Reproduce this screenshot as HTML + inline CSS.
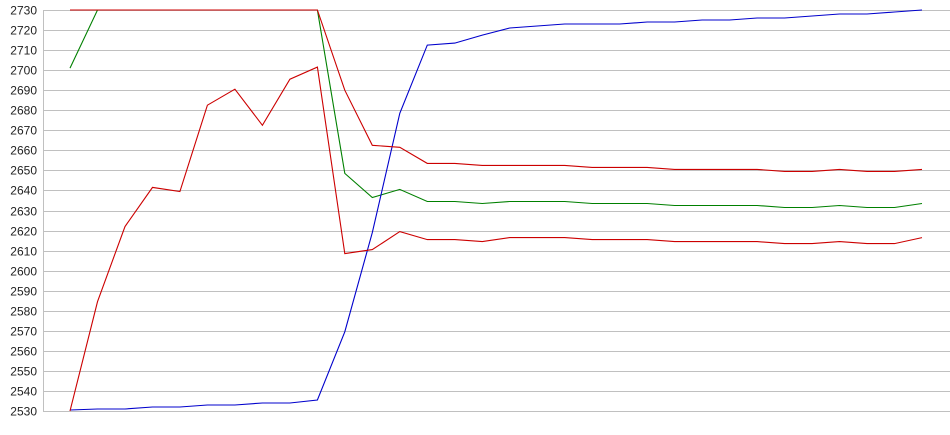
<!DOCTYPE html>
<html><head><meta charset="utf-8"><style>
html,body{margin:0;padding:0;background:#fff;}
svg{display:block;font-family:"Liberation Sans",Arial,sans-serif;}
</style></head><body>
<svg id="chart" width="950" height="435" viewBox="0 0 950 435" xmlns="http://www.w3.org/2000/svg"></svg>
<script>
const yTicks = [2530,2540,2550,2560,2570,2580,2590,2600,2610,2620,2630,2640,2650,2660,2670,2680,2690,2700,2710,2720,2730];
const upperRed = [2730,2730,2730,2730,2730,2730,2730,2730,2730,2730,2690,2662.5,2661.5,2653.5,2653.5,2652.5,2652.5,2652.5,2652.5,2651.5,2651.5,2651.5,2650.5,2650.5,2650.5,2650.5,2649.5,2649.5,2650.5,2649.5,2649.5,2650.5];
const greenSeries = [2701,2730,2730,2730,2730,2730,2730,2730,2730,2730,2648.5,2636.5,2640.5,2634.5,2634.5,2633.5,2634.5,2634.5,2634.5,2633.5,2633.5,2633.5,2632.5,2632.5,2632.5,2632.5,2631.5,2631.5,2632.5,2631.5,2631.5,2633.5];
const lowerRed = [2530,2584.5,2622,2641.5,2639.5,2682.5,2690.5,2672.5,2695.5,2701.5,2608.5,2610.5,2619.5,2615.5,2615.5,2614.5,2616.5,2616.5,2616.5,2615.5,2615.5,2615.5,2614.5,2614.5,2614.5,2614.5,2613.5,2613.5,2614.5,2613.5,2613.5,2616.5];
const blueSeries = [2530.5,2531,2531,2532,2532,2533,2533,2534,2534,2535.5,2569.5,2619,2678.5,2712.5,2713.5,2717.5,2721,2722,2723,2723,2723,2724,2724,2725,2725,2726,2726,2727,2728,2728,2729,2730];

const svg = document.getElementById('chart');
const NS = 'http://www.w3.org/2000/svg';
const yMin = 2530, yMax = 2730, plotTop = 10, plotBottom = 411, plotLeft = 43, plotRight = 950;
const x0 = 70, x1 = 922;
function yScale(v){ return plotBottom - (v - yMin) / (yMax - yMin) * (plotBottom - plotTop); }
function xScale(i, n){ return x0 + i * (x1 - x0) / (n - 1); }

const grid = document.createElementNS(NS,'g');


svg.appendChild(grid);
const labels = document.createElementNS(NS,'g');


svg.appendChild(labels);
yTicks.forEach(t => {
  const y = Math.round(yScale(t)) + 0.5;
  const l = document.createElementNS(NS,'line');
  
  
  l.setAttribute('x1', plotLeft); l.setAttribute('x2', plotRight);
  l.setAttribute('y1', y); l.setAttribute('y2', y);
  l.setAttribute('stroke', '#c0c0c0'); l.setAttribute('stroke-width', '1');
  grid.appendChild(l);
  const tx = document.createElementNS(NS,'text');
  
  
  tx.setAttribute('x', 37); tx.setAttribute('y', y + 4);
  tx.setAttribute('text-anchor', 'end');
  tx.setAttribute('font-size', '12');
  tx.setAttribute('fill', '#222');
  tx.textContent = t;
  labels.appendChild(tx);
});
const axis = document.createElementNS(NS,'line');


axis.setAttribute('x1', plotLeft + 0.5); axis.setAttribute('x2', plotLeft + 0.5);
axis.setAttribute('y1', plotTop); axis.setAttribute('y2', plotBottom + 1);
axis.setAttribute('stroke', '#c0c0c0');
svg.appendChild(axis);

function drawSeries(data, color, name){
  const p = document.createElementNS(NS,'polyline');
  
  
  p.setAttribute('points', data.map((v,i) => xScale(i, data.length).toFixed(1) + ',' + yScale(v).toFixed(1)).join(' '));
  p.setAttribute('fill', 'none');
  p.setAttribute('stroke', color);
  p.setAttribute('stroke-width', '1.1');
  svg.appendChild(p);
}
drawSeries(greenSeries, '#008000', 'series-green');
drawSeries(blueSeries, '#0000cc', 'series-blue');
drawSeries(lowerRed, '#cc0000', 'series-red-lower');
drawSeries(upperRed, '#cc0000', 'series-red-upper');
</script>
</body></html>
